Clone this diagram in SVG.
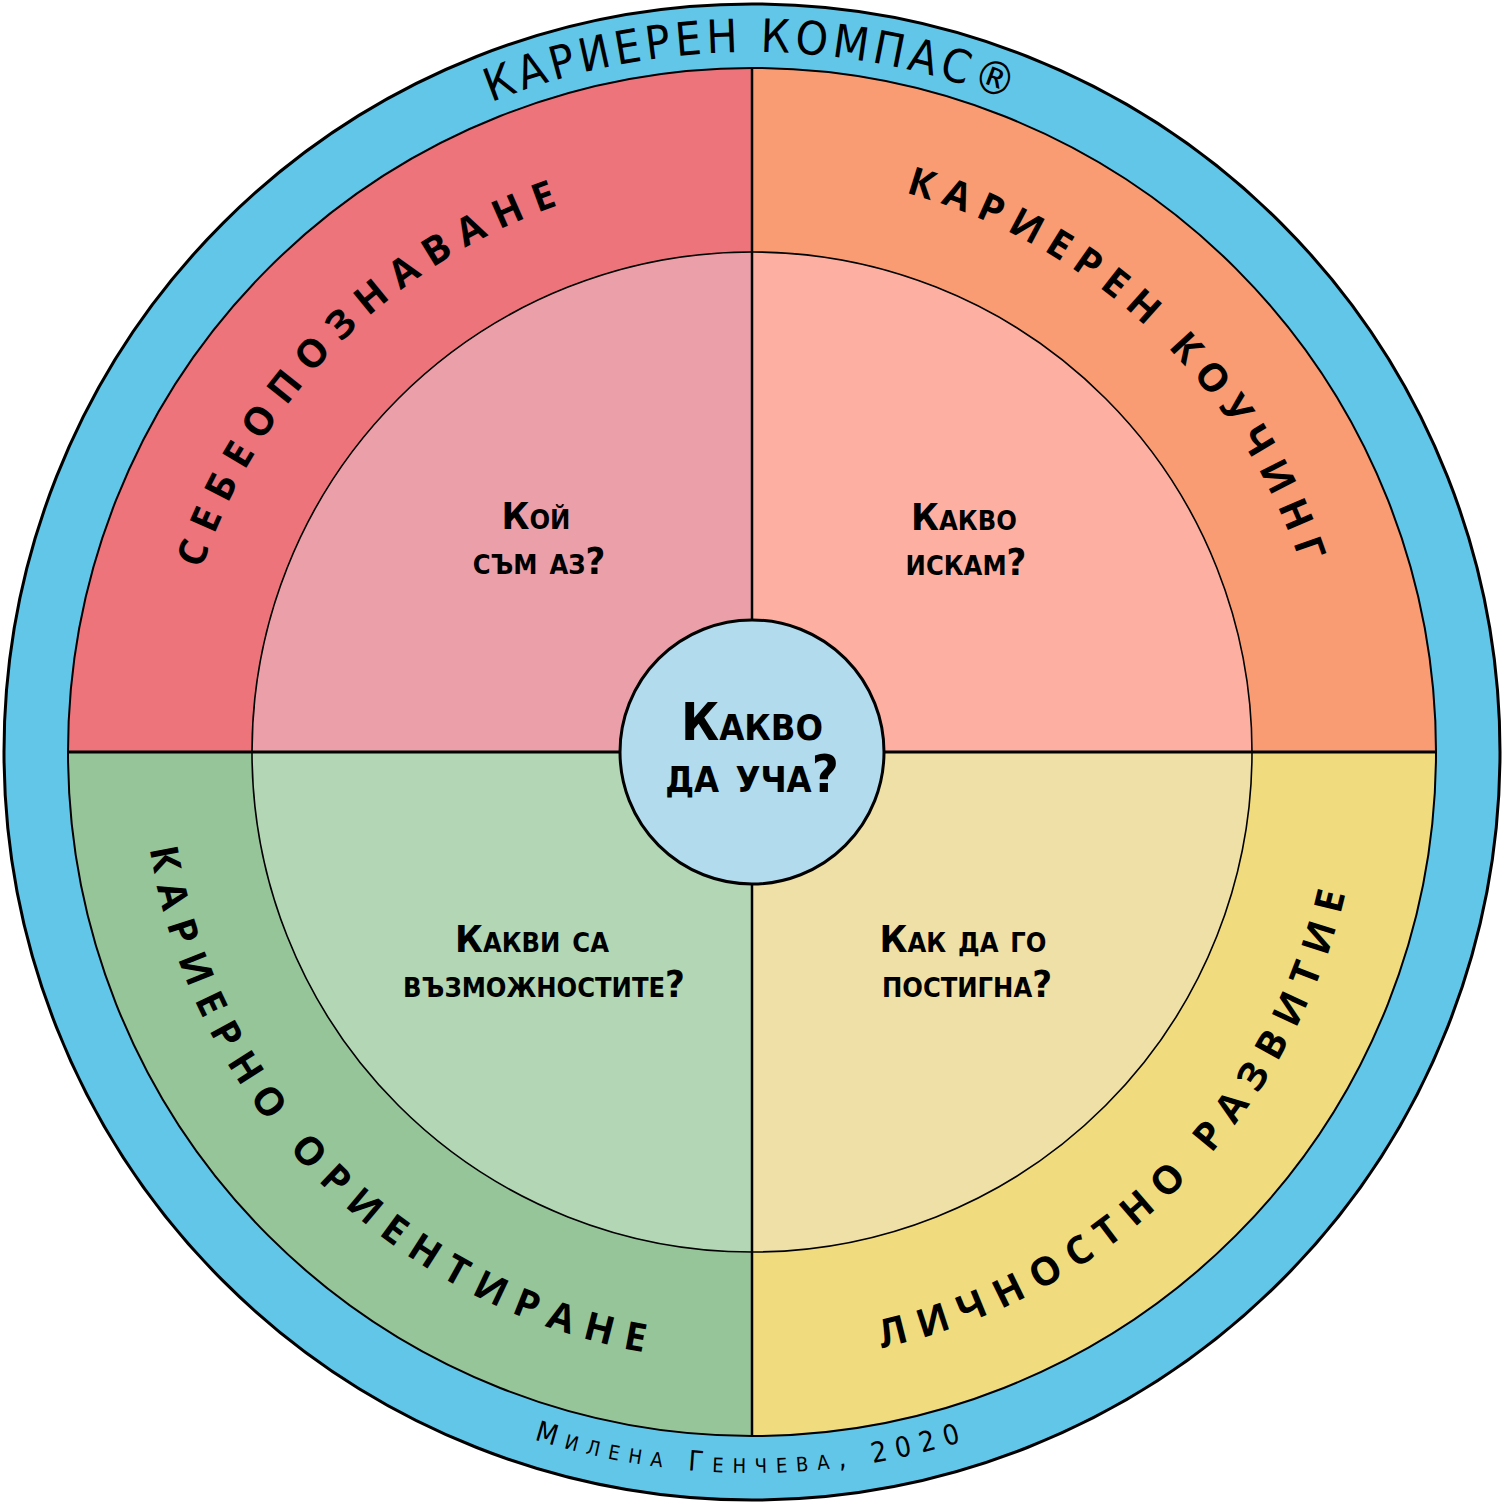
<svg xmlns="http://www.w3.org/2000/svg" xmlns:xlink="http://www.w3.org/1999/xlink" width="1504" height="1504" viewBox="0 0 1504 1504">
<style>
.arc{font-family:"Open Sans","Noto Sans",sans-serif;font-weight:700;font-size:39px;fill:#000;}
.q{font-family:"DejaVu Sans Condensed","DejaVu Sans",sans-serif;font-weight:700;font-size:38px;font-variant:small-caps;fill:#000;text-anchor:middle;}
.c{font-family:"DejaVu Sans Condensed","DejaVu Sans",sans-serif;font-weight:700;font-size:52px;font-variant:small-caps;fill:#000;text-anchor:middle;}
.hand{font-family:"DejaVu Sans Condensed","DejaVu Sans",sans-serif;fill:#000;}
.edge{fill:none;stroke:#000;}
</style>
<defs>
<path id="p-tl" d="M172,752 A580,580 0 0 1 752,172"/>
<path id="p-tr" d="M752,172 A580,580 0 0 1 1332,752"/>
<path id="p-bl" d="M142,752 A610,610 0 0 0 752,1362"/>
<path id="p-br" d="M752,1362 A610,610 0 0 0 1362,752"/>
<path id="p-title" d="M52,752 A700,700 0 0 1 1452,752"/>
<path id="p-author" d="M31,752 A721,721 0 0 0 1473,752"/>
</defs>
<g id="ring">
<circle cx="752" cy="752" r="748" fill="#62C6E9" stroke="#000" stroke-width="3"/>
<text class="hand" font-size="46" letter-spacing="4.5"><textPath href="#p-title" xlink:href="#p-title" startOffset="50%" text-anchor="middle">КАРИЕРЕН КОМПАС®</textPath></text>
<text class="hand" font-size="28" letter-spacing="9" font-variant="small-caps"><textPath href="#p-author" xlink:href="#p-author" startOffset="50%" text-anchor="middle">Милена Генчева, 2020</textPath></text>
</g>
<g id="quadrant-self">
<path d="M752,752 L68,752 A684,684 0 0 1 752,68 Z" fill="#EC747A"/>
<path d="M752,752 L252,752 A500,500 0 0 1 752,252 Z" fill="#EBA0A9"/>
<text class="arc" letter-spacing="12"><textPath href="#p-tl" xlink:href="#p-tl" startOffset="50%" text-anchor="middle">СЕБЕОПОЗНАВАНЕ</textPath></text>
<text class="q"><tspan x="536" y="529">Кой</tspan><tspan x="539" y="574">съм аз?</tspan></text>
</g>
<g id="quadrant-coaching">
<path d="M752,752 L752,68 A684,684 0 0 1 1436,752 Z" fill="#FA9C73"/>
<path d="M752,752 L752,252 A500,500 0 0 1 1252,752 Z" fill="#FDB0A1"/>
<text class="arc" letter-spacing="10"><textPath href="#p-tr" xlink:href="#p-tr" startOffset="442" text-anchor="middle">КАРИЕРЕН КОУЧИНГ</textPath></text>
<text class="q"><tspan x="964" y="530">Какво</tspan><tspan x="966" y="575">искам?</tspan></text>
</g>
<g id="quadrant-development">
<path d="M752,752 L1436,752 A684,684 0 0 1 752,1436 Z" fill="#F0DC7F"/>
<path d="M752,752 L1252,752 A500,500 0 0 1 752,1252 Z" fill="#EFE0A7"/>
<text class="arc" letter-spacing="12"><textPath href="#p-br" xlink:href="#p-br" startOffset="50%" text-anchor="middle">ЛИЧНОСТНО РАЗВИТИЕ</textPath></text>
<text class="q"><tspan x="963" y="952">Как да го</tspan><tspan x="967" y="997">постигна?</tspan></text>
</g>
<g id="quadrant-orientation">
<path d="M752,752 L752,1436 A684,684 0 0 1 68,752 Z" fill="#97C59A"/>
<path d="M752,752 L752,1252 A500,500 0 0 1 252,752 Z" fill="#B3D6B5"/>
<text class="arc" letter-spacing="12"><textPath href="#p-bl" xlink:href="#p-bl" startOffset="50%" text-anchor="middle">КАРИЕРНО ОРИЕНТИРАНЕ</textPath></text>
<text class="q"><tspan x="532" y="952">Какви са</tspan><tspan x="544" y="997">възможностите?</tspan></text>
</g>
<g id="dividers">
<circle class="edge" cx="752" cy="752" r="684" stroke-width="2"/>
<circle class="edge" cx="752" cy="752" r="500" stroke-width="1.6"/>
<line class="edge" x1="68" y1="752" x2="1436" y2="752" stroke-width="3"/>
<line class="edge" x1="752" y1="68" x2="752" y2="1436" stroke-width="2.5"/>
</g>
<g id="center">
<circle cx="752" cy="752" r="132" fill="#B2DBEE" stroke="#000" stroke-width="3"/>
<text class="c"><tspan x="752" y="740">Какво</tspan><tspan x="752" y="792">да уча?</tspan></text>
</g>
</svg>
